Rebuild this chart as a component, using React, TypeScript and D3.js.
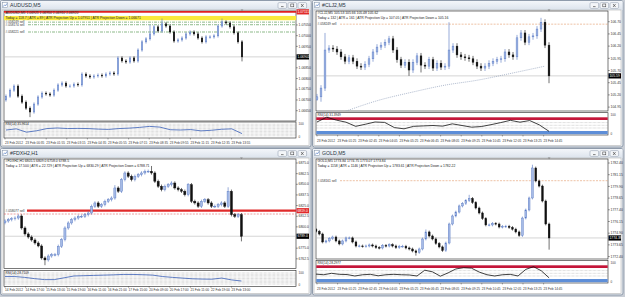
import React from "react";
import * as d3 from "d3";

const W = 625;
const H = 297;
const FONT = "Liberation Sans, Arial, sans-serif";

// ---------------- Panel 1: AUDUSD,M5 ----------------
const audTitle = "AUDUSD,M5";
const audInfo1 = "AUDUSD,M5  1.06925 1.06950 1.06910 1.06920";
const audInfo2 = "Today = 118.7   |   ATR = 89   |   ATR Projection Up = 1.07951   |   ATR Projection Down = 1.06671";
const audClose = [1.06718,1.06746,1.06765,1.06718,1.06690,1.06662,1.06644,1.06681,1.06714,1.06732,
  1.06728,1.06723,1.06746,1.06770,1.06779,1.06765,1.06765,1.06774,1.06770,1.06821,
  1.06812,1.06807,1.06812,1.06816,1.06812,1.06821,1.06826,1.06821,1.06896,1.06882,
  1.06877,1.06896,1.06882,1.06933,1.06971,1.06985,1.07008,1.07041,1.07022,1.07055,
  1.07045,1.07017,1.06975,1.06980,1.06989,1.07008,1.07017,1.07008,1.06989,1.06971,
  1.06994,1.06994,1.06999,1.07045,1.07064,1.07059,1.07041,1.07013,1.06971,1.06901];
const audFirstOpen = 1.067;
const audWick = 0.00008;
const audExt: [number, string, number][] = [[6, "l", 1.0662], [39, "h", 1.0708], [54, "h", 1.0708], [59, "l", 1.0688], [36, "h", 1.0705]];
const audDomain: [number, number] = [1.06602, 1.07115];
const audTicks = [1.0705, 1.07, 1.0695, 1.069, 1.0685, 1.068, 1.0675, 1.067, 1.0665];
const audBid = 1.06901;
const audRedLevel = 1.07111;
const audZone: [number, number] = [1.07072, 1.07092];
const audGreenLevels = [1.07063, 1.07051, 1.07017];
const audOrderText = ["#.058249 sell", "#.058174 sell", "#.058221 sell"];
const audRsi = [50,58,35,45,60,64,60,61,60,56,54,60,63,68,75,70,52,50,53,44,48,55,58,25];
const audRsiLabel = "RSI(14) 35.9614";
const audTimes = ["23 Feb 2012","23 Feb 00:35","23 Feb 01:55","23 Feb 03:15","23 Feb 04:35","23 Feb 05:55","23 Feb 07:15","23 Feb 08:35","23 Feb 09:55","23 Feb 11:15","23 Feb 12:35","23 Feb 13:55"];

// ---------------- Panel 2: #CLJ2,M5 ----------------
const clTitle = "#CLJ2,M5";
const clInfo1 = "#CLJ2,M5  105.53 105.66 105.48 105.62";
const clInfo2 = "Today = 132   |   ATR = 161   |   ATR Projection Up = 107.05   |   ATR Projection Down = 105.16";
const clClose = [105.16,105.34,106.12,106.16,106.14,106.08,105.98,105.89,105.96,105.89,
  105.79,105.77,105.83,105.94,106.08,106.18,106.22,106.28,106.35,106.12,
  105.92,105.81,105.87,105.71,105.87,106.00,105.81,105.79,105.92,105.75,
  105.85,105.77,105.79,106.12,106.20,106.02,105.98,105.96,105.94,105.87,
  105.79,105.75,105.79,105.85,105.89,105.92,105.94,106.08,106.02,105.98,
  106.37,106.47,106.28,106.39,106.41,106.55,106.69,106.22,105.59];
const clFirstOpen = 105.10;
const clWick = 0.06;
const clExt: [number, string, number][] = [[0, "l", 105.08], [1, "l", 105.06], [2, "h", 106.47], [23, "l", 105.59], [33, "h", 106.69], [56, "h", 106.78], [58, "l", 105.44], [26, "l", 105.66]];
const clDomain: [number, number] = [104.87, 106.92];
const clTicks = [106.7, 106.45, 106.2, 105.95, 105.7, 105.45, 105.2, 104.95];
const clBid = 105.59;
const clOrderLevel = 106.65;
const clOrderText = "#.058249 sell";
const clMa: [number, number][] = [[5, 104.8], [8, 104.89], [15, 105.08], [24, 105.26], [32, 105.4], [40, 105.5], [49, 105.65], [57, 105.79]];
const clRsi = [59,82,68,58,38,48,59,57,32,26,38,40,42,39,50,42,34,37,46,56,67,58,66,45,14];
const clRsiLabel = "RSI(14) 31.3949";
const clTimes = ["23 Feb 2012","23 Feb 01:25","23 Feb 02:45","23 Feb 04:05","23 Feb 05:25","23 Feb 06:45","23 Feb 08:05","23 Feb 09:25","23 Feb 10:45","23 Feb 12:05","23 Feb 13:25","23 Feb 14:45"];

// ---------------- Panel 3: #FDXH2,H1 ----------------
const fdxTitle = "#FDXH2,H1";
const fdxInfo1 = "#FDXH2,H1  6805.5 6809.0 6758.0 6788.5";
const fdxInfo2 = "Today = 17.500   |   ATR = 22.729   |   ATR Projection Up = 6830.29   |   ATR Projection Down = 6788.71";
const fdxClose = [6806.9,6808.5,6809.6,6810.4,6812.8,6798.7,6791.7,6788.1,6784.6,6781.1,
  6777.6,6763.5,6761.2,6765.8,6767.4,6767.4,6777.2,6785.0,6798.7,6804.6,
  6808.5,6810.4,6812.4,6812.4,6814.3,6816.3,6824.2,6828.1,6824.2,6826.1,
  6830.0,6831.9,6833.9,6845.7,6841.8,6855.4,6863.3,6859.4,6855.4,6859.4,
  6861.3,6863.3,6865.3,6865.3,6863.3,6853.5,6847.7,6843.7,6847.7,6849.5,
  6851.5,6845.7,6843.7,6841.8,6837.8,6849.5,6830.0,6828.1,6824.2,6830.0,
  6831.9,6828.1,6824.2,6824.2,6826.1,6828.1,6824.2,6841.8,6814.3,6812.4,
  6814.3,6789.0];
const fdxFirstOpen = 6805.0;
const fdxWick = 2.0;
const fdxExt: [number, string, number][] = [[12, "l", 6755.0], [10, "l", 6776.0], [44, "h", 6871.5], [67, "h", 6846.5], [71, "l", 6783.0], [33, "h", 6849.0]];
const fdxDomain: [number, number] = [6750.9, 6879.7];
const fdxTicks = [6875.0, 6862.5, 6850.0, 6837.5, 6825.0, 6812.5, 6800.0, 6787.5, 6775.0, 6762.5];
const fdxBid = 6789.0;
const fdxRedLevel = 6819.0;
const fdxRedDash = 6815.1;
const fdxOrderText = "#.058077 sell";
const fdxRsi = [64,64,58,49,42,42,55,68,70,72,74,76,79,79,77,74,64,58,53,48,46,45,53,40,32];
const fdxRsiLabel = "RSI(14) 28.7109";
const fdxTimes = ["14 Feb 2012","14 Feb 17:00","15 Feb 13:00","15 Feb 19:00","16 Feb 11:00","16 Feb 21:00","17 Feb 15:00","20 Feb 09:00","20 Feb 17:00","21 Feb 11:00","22 Feb 19:00","23 Feb 13:00"];

// ---------------- Panel 4: GOLD,M5 ----------------
const goldTitle = "GOLD,M5";
const goldInfo1 = "GOLD,M5  1773.84 1774.75 1773.07 1773.84";
const goldInfo2 = "Today = 1158   |   ATR = 1146   |   ATR Projection Up = 1783.61   |   ATR Projection Down = 1782.22";
const goldClose = [1775.10,1774.81,1773.96,1774.07,1774.33,1774.49,1774.07,1773.75,1774.07,1774.39,
  1774.39,1773.96,1773.53,1773.53,1773.50,1773.53,1773.64,1773.53,1773.37,1773.32,
  1773.59,1773.53,1773.67,1773.53,1773.37,1773.50,1773.50,1773.32,1773.21,1773.00,
  1772.84,1773.21,1774.28,1775.03,1774.60,1774.28,1773.80,1773.43,1773.05,1773.85,
  1775.88,1776.74,1777.16,1777.81,1778.07,1778.39,1778.61,1778.18,1777.59,1777.06,
  1776.47,1775.78,1775.78,1775.94,1775.88,1775.56,1775.62,1775.64,1775.51,1775.33,
  1775.03,1774.65,1776.52,1777.38,1778.66,1781.87,1780.48,1779.94,1778.34,1775.88,1774.39];
const goldFirstOpen = 1775.3;
const goldWick = 0.15;
const goldExt: [number, string, number][] = [[65, "h", 1782.22], [70, "l", 1773.14], [30, "l", 1772.5], [33, "h", 1775.3], [46, "h", 1779.0]];
const goldDomain: [number, number] = [1772.14, 1782.83];
const goldTicks = [1782.4, 1781.15, 1779.9, 1778.65, 1777.4, 1776.15, 1774.9, 1773.65, 1772.4];
const goldBid = 1774.39;
const goldOrderLevel = 1780.51;
const goldOrderText = "#.058161 sell";
const goldRsi = [39,36,43,38,37,30,36,38,31,36,38,36,35,30,58,50,29,45,64,70,68,49,36,30,36,38,30,62,75,55,21];
const goldRsiLabel = "RSI(14) 28.2977";
const goldTimes = ["23 Feb 2012","23 Feb 01:25","23 Feb 02:45","23 Feb 04:05","23 Feb 05:25","23 Feb 06:45","23 Feb 08:05","23 Feb 09:25","23 Feb 10:45","23 Feb 12:05","23 Feb 13:25","23 Feb 14:45"];

// ---------------- rendering ----------------
type HLine = { price: number; color: string; width: number; dash?: string; x1?: number };
type Cfg = {
  id: string; ox: number; oy: number; title: string; info1: string; info2: string;
  close: number[]; firstOpen: number; wick: number; ext: [number, string, number][];
  domain: [number, number]; ticks: number[]; dec: number; bid: number;
  mainTop: number; mainBottom: number; rsiTop: number; rsiBottom: number; timeY: number;
  x0: number; step: number; bodyW: number;
  rsi: number[]; rsiColor: string; rsiLabel: string; rsiDots: number[];
  rsiBands?: { lo: number; hi: number; color: string }[];
  times: string[]; hlines: HLine[]; zone?: [number, number];
  orders: { price: number; text: string }[];
  redTag?: number; ma?: [number, number][];
};

const BULL_STROKE = "#5273c0";
const BULL_FILL = "#a6bbe6";
const BEAR = "#101010";

function Panel({ c }: { c: Cfg }) {
  const plotL = 4;
  const plotR = 296;
  const n = c.close.length;
  const y = d3.scaleLinear().domain(c.domain).range([c.mainBottom, c.mainTop]);
  const x = d3.scaleLinear().domain([0, n - 1]).range([c.x0, c.x0 + c.step * (n - 1)]);
  const candles = c.close.map((cl, i) => {
    const o = i === 0 ? c.firstOpen : c.close[i - 1];
    let h = Math.max(o, cl) + c.wick;
    let l = Math.min(o, cl) - c.wick;
    c.ext.forEach(([idx, k, v]) => {
      if (idx === i) {
        if (k === "h") h = v;
        else l = v;
      }
    });
    return { o, c: cl, h, l, i };
  });
  const ry = d3.scaleLinear().domain([0, 100]).range([c.rsiBottom - 0.8, c.rsiTop + 0.8]);
  const rx = d3.scaleLinear().domain([0, c.rsi.length - 1]).range([x(0), x(n - 1)]);
  const rsiPath = d3.line<number>().x((_, i) => rx(i)).y((v) => ry(v))(c.rsi) || "";
  const maPath = c.ma ? d3.line<[number, number]>().x((d) => x(d[0])).y((d) => y(d[1])).curve(d3.curveMonotoneX)(c.ma) || "" : "";
  const tx = d3.scaleLinear().domain([0, c.times.length - 1]).range([plotL + 1, plotL + 1 + 20.6 * (c.times.length - 1)]);
  const fmt = d3.format(`.${c.dec}f`);
  const bidY = y(c.bid);
  const tagY = c.redTag !== undefined ? y(c.redTag) : -100;
  const clipId = `clip-${c.id}`;
  const lastX = x(n - 1);

  return (
    <g transform={`translate(${c.ox},${c.oy})`} fontFamily={FONT}>
      <defs>
        <clipPath id={clipId}>
          <rect x={plotL} y={c.mainTop} width={plotR - plotL} height={c.mainBottom - c.mainTop} />
        </clipPath>
      </defs>
      {/* window frame */}
      <rect x={0.5} y={0.5} width={310.5} height={146.5} rx={2} fill="#eef1f5" stroke="#8f9bab" strokeWidth={1} />
      <rect x={1} y={1} width={309.5} height={9} fill="url(#titleGrad)" />
      <rect x={2.5} y={2.5} width={5} height={5} fill="#fff" stroke="#7f8fa6" strokeWidth={0.5} />
      <path d="M3.3,6.6 L4.6,4.8 L5.6,5.8 L7,3.4" fill="none" stroke="#3d6bc0" strokeWidth={0.6} />
      <text x={10} y={7.4} fontSize={5.2} fill="#2a3440">{c.title}</text>
      {[278, 288, 298].map((bx, k) => (
        <g key={k}>
          <rect x={bx} y={2.6} width={8.6} height={5.8} rx={1.2} fill="#f4f6f9" stroke="#8a97a8" strokeWidth={0.5} />
          {k === 0 && <line x1={bx + 3} x2={bx + 5.6} y1={6.6} y2={6.6} stroke="#333" strokeWidth={0.6} />}
          {k === 1 && <rect x={bx + 2.8} y={4} width={3} height={2.8} fill="none" stroke="#333" strokeWidth={0.5} />}
          {k === 2 && <path d={`M${bx + 3},${4} L${bx + 5.6},${7} M${bx + 5.6},${4} L${bx + 3},${7}`} stroke="#333" strokeWidth={0.6} />}
        </g>
      ))}
      <rect x={2} y={10} width={307} height={135.5} fill="#ffffff" stroke="#a8a8a8" strokeWidth={0.5} />

      {/* main plot */}
      <rect x={plotL} y={c.mainTop} width={plotR - plotL} height={c.mainBottom - c.mainTop} fill="#ffffff" stroke="#202020" strokeWidth={0.6} />
      <g clipPath={`url(#${clipId})`}>
        {c.zone && (
          <rect x={plotL} width={plotR - plotL} y={y(c.zone[1])} height={y(c.zone[0]) - y(c.zone[1])} fill="#f9ea3c" />
        )}
        {c.hlines.map((l, k) => (
          <line key={k} x1={l.x1 ?? plotL} x2={plotR} y1={y(l.price)} y2={y(l.price)} stroke={l.color} strokeWidth={l.width} strokeDasharray={l.dash} />
        ))}
        <line x1={plotL} x2={plotR} y1={bidY} y2={bidY} stroke="#b8b8b8" strokeWidth={0.6} />
        {c.ma && <path d={maPath} fill="none" stroke="#8d9cb8" strokeWidth={0.7} strokeDasharray="1,1" />}
        {candles.map((d) => {
          const bull = d.c >= d.o;
          const cx = x(d.i);
          const top = y(Math.max(d.o, d.c));
          const bot = y(Math.min(d.o, d.c));
          const col = bull ? BULL_STROKE : BEAR;
          return (
            <g key={d.i}>
              <line x1={cx} x2={cx} y1={y(d.h)} y2={y(d.l)} stroke={col} strokeWidth={0.6} />
              <rect x={cx - c.bodyW / 2} y={top} width={c.bodyW} height={Math.max(0.7, bot - top)} fill={bull ? BULL_FILL : BEAR} stroke={col} strokeWidth={0.4} />
            </g>
          );
        })}
      </g>
      {/* shift marker */}
      <path d={`M${lastX - 1.4},${c.mainTop - 1.5} L${lastX + 1.4},${c.mainTop - 1.5} L${lastX},${c.mainTop + 0.3} Z`} fill="#888" />
      {/* info texts */}
      <text x={plotL + 1.5} y={c.mainTop + 3.3} fontSize={3.4} fill="#222">{c.info1}</text>
      <text x={plotL + 1.5} y={c.mainTop + 7.6} fontSize={3.4} fill="#222">{c.info2}</text>
      {c.orders.map((o, k) => (
        <text key={k} x={plotL + 1.5} y={y(o.price) + 0.9} fontSize={3.2} fill="#333">{o.text}</text>
      ))}
      {/* price axis */}
      {c.ticks.map((t) => {
        const ty = y(t);
        if (Math.abs(ty - bidY) < 4.5 || Math.abs(ty - tagY) < 4.5) return null;
        return (
          <g key={t}>
            <line x1={plotR} x2={plotR + 1.8} y1={ty} y2={ty} stroke="#333" strokeWidth={0.5} />
            <text x={plotR + 2.6} y={ty + 1.2} fontSize={3.4} fill="#333">{fmt(t)}</text>
          </g>
        );
      })}
      <rect x={plotR + 0.5} y={bidY - 2.6} width={12.5} height={5.2} fill="#000" />
      <text x={plotR + 1.4} y={bidY + 1.2} fontSize={3.4} fill="#fff">{fmt(c.bid)}</text>
      {c.redTag !== undefined && (
        <g>
          <rect x={plotR + 0.5} y={tagY - 2.6} width={12.5} height={5.2} fill="#e02a2a" />
          <text x={plotR + 1.4} y={tagY + 1.2} fontSize={3.4} fill="#fff">{fmt(c.redTag)}</text>
        </g>
      )}

      {/* RSI pane */}
      <rect x={plotL} y={c.rsiTop} width={plotR - plotL} height={c.rsiBottom - c.rsiTop} fill="#ffffff" stroke="#202020" strokeWidth={0.6} />
      {c.rsiBands?.map((b, k) => (
        <rect key={k} x={plotL + 0.3} width={plotR - plotL - 0.6} y={Math.max(c.rsiTop + 0.3, ry(b.hi))} height={Math.min(c.rsiBottom - 0.3, ry(b.lo)) - Math.max(c.rsiTop + 0.3, ry(b.hi))} fill={b.color} />
      ))}
      {c.rsiDots.map((lv) => (
        <line key={lv} x1={plotL} x2={plotR} y1={ry(lv)} y2={ry(lv)} stroke="#8a8a8a" strokeWidth={0.45} strokeDasharray="0.6,0.7" />
      ))}
      <path d={rsiPath} fill="none" stroke={c.rsiColor} strokeWidth={0.8} />
      <text x={plotL + 1.5} y={c.rsiTop + 3.4} fontSize={3.2} fill="#222">{c.rsiLabel}</text>
      <text x={plotR + 2.6} y={c.rsiTop + 3} fontSize={3} fill="#333">100</text>
      <text x={plotR + 2.6} y={c.rsiBottom} fontSize={3} fill="#333">0</text>
      {/* time axis */}
      {c.times.map((t, k) => (
        <g key={k}>
          <line x1={tx(k)} x2={tx(k)} y1={c.rsiBottom} y2={c.rsiBottom + 1.5} stroke="#333" strokeWidth={0.4} />
          <text x={tx(k)} y={c.timeY} fontSize={3.2} fill="#333">{t}</text>
        </g>
      ))}
    </g>
  );
}

const panelAud: Cfg = {
  id: "aud", ox: 0, oy: 0, title: audTitle, info1: audInfo1, info2: audInfo2,
  close: audClose, firstOpen: audFirstOpen, wick: audWick, ext: audExt,
  domain: audDomain, ticks: audTicks, dec: 5, bid: audBid,
  mainTop: 11, mainBottom: 121, rsiTop: 122, rsiBottom: 138, timeY: 143.8,
  x0: 6, step: 4, bodyW: 1.6,
  rsi: audRsi, rsiColor: "#3a5fb8", rsiLabel: audRsiLabel, rsiDots: [10, 20, 30, 40, 50, 60, 70, 80, 90],
  times: audTimes,
  hlines: [
    { price: audRedLevel, color: "#e02020", width: 1.8 },
    ...audGreenLevels.map((p) => ({ price: p, color: "#3f8a3a", width: 0.6, dash: "3,1,1,1", x1: 28 })),
  ],
  zone: audZone,
  orders: audGreenLevels.map((p, k) => ({ price: p, text: audOrderText[k] })),
  redTag: audRedLevel,
};

const panelCl: Cfg = {
  id: "cl", ox: 312, oy: 0, title: clTitle, info1: clInfo1, info2: clInfo2,
  close: clClose, firstOpen: clFirstOpen, wick: clWick, ext: clExt,
  domain: clDomain, ticks: clTicks, dec: 2, bid: clBid,
  mainTop: 11, mainBottom: 111, rsiTop: 112.7, rsiBottom: 135, timeY: 141.5,
  x0: 5, step: 4, bodyW: 1.8,
  rsi: clRsi, rsiColor: "#111", rsiLabel: clRsiLabel, rsiDots: [56, 43, 30],
  rsiBands: [{ lo: 68.6, hi: 81.6, color: "#c4163a" }, { lo: 0, hi: 15.5, color: "#5d8ed8" }],
  times: clTimes,
  hlines: [{ price: clOrderLevel, color: "#e39a6a", width: 0.6, dash: "2,1.2", x1: 28 }],
  orders: [{ price: clOrderLevel, text: clOrderText }],
  ma: clMa,
};

const panelFdx: Cfg = {
  id: "fdx", ox: 0, oy: 148, title: fdxTitle, info1: fdxInfo1, info2: fdxInfo2,
  close: fdxClose, firstOpen: fdxFirstOpen, wick: fdxWick, ext: fdxExt,
  domain: fdxDomain, ticks: fdxTicks, dec: 1, bid: fdxBid,
  mainTop: 11, mainBottom: 120.7, rsiTop: 122.7, rsiBottom: 138.3, timeY: 143.3,
  x0: 5, step: 3.33, bodyW: 2.1,
  rsi: fdxRsi, rsiColor: "#3a5fb8", rsiLabel: fdxRsiLabel, rsiDots: [10, 20, 30, 40, 50, 60, 70, 80, 90],
  times: fdxTimes,
  hlines: [
    { price: fdxRedLevel, color: "#e02a2a", width: 2.2, x1: 27 },
    { price: fdxRedDash, color: "#e06060", width: 0.6, dash: "2,1.2" },
  ],
  orders: [{ price: fdxRedLevel, text: fdxOrderText }],
  redTag: fdxRedLevel,
};

const panelGold: Cfg = {
  id: "gold", ox: 312, oy: 148, title: goldTitle, info1: goldInfo1, info2: goldInfo2,
  close: goldClose, firstOpen: goldFirstOpen, wick: goldWick, ext: goldExt,
  domain: goldDomain, ticks: goldTicks, dec: 2, bid: goldBid,
  mainTop: 11, mainBottom: 111, rsiTop: 112.7, rsiBottom: 135, timeY: 142.2,
  x0: 4, step: 3.33, bodyW: 1.8,
  rsi: goldRsi, rsiColor: "#111", rsiLabel: goldRsiLabel, rsiDots: [56, 43, 30],
  rsiBands: [{ lo: 68.6, hi: 81.6, color: "#c4163a" }, { lo: 0, hi: 15.5, color: "#5d8ed8" }],
  times: goldTimes,
  hlines: [{ price: goldOrderLevel, color: "#e39a6a", width: 0.6, dash: "2,1.2", x1: 28 }],
  orders: [{ price: goldOrderLevel, text: goldOrderText }],
};

export default function App() {
  return (
    <svg width={W} height={H} viewBox={`0 0 ${W} ${H}`} style={{ position: "fixed", left: 0, top: 0, background: "#c9ced6" }}>
      <defs>
        <linearGradient id="titleGrad" x1="0" y1="0" x2="0" y2="1">
          <stop offset="0" stopColor="#f3f6fa" />
          <stop offset="1" stopColor="#dce3ec" />
        </linearGradient>
      </defs>
      <rect x={0} y={0} width={W} height={H} fill="#c9ced6" />
      <Panel c={panelAud} />
      <Panel c={panelCl} />
      <Panel c={panelFdx} />
      <Panel c={panelGold} />
    </svg>
  );
}
